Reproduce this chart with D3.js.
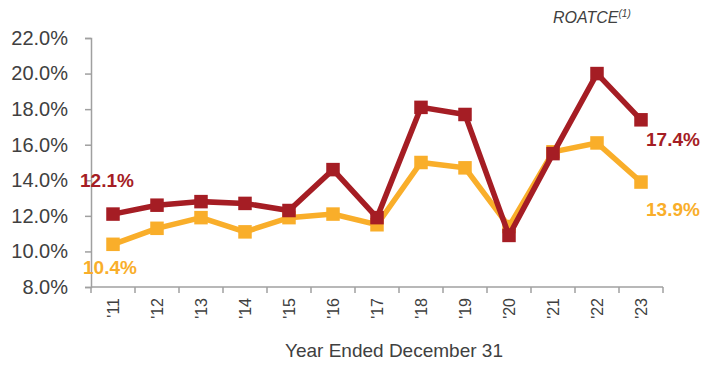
<!DOCTYPE html>
<html>
<head>
<meta charset="utf-8">
<script src="https://cdn.jsdelivr.net/npm/d3@7"></script>
<style>
  body { margin: 0; background: #fff; }
  svg { display: block; font-family: "Liberation Sans", Arial, sans-serif; }
</style>
</head>
<body>
<svg id="chart" width="717" height="365"></svg>
<script>
// Years on the x axis
const years = ["'11", "'12", "'13", "'14", "'15", "'16", "'17", "'18", "'19", "'20", "'21", "'22", "'23"];
// ROATCE series, percent
const seriesRed = [12.1, 12.6, 12.8, 12.7, 12.3, 14.6, 11.9, 18.1, 17.7, 10.9, 15.5, 20.0, 17.4];
const seriesGold = [10.4, 11.3, 11.9, 11.1, 11.9, 12.1, 11.5, 15.0, 14.7, 11.4, 15.6, 16.1, 13.9];
// Y axis ticks
const yTicks = [8, 10, 12, 14, 16, 18, 20, 22];

const RED = "#a51d24";
const GOLD = "#f9ae2a";
const AXIS = "#a0a0a0";
const TEXT = "#404040";

const svg = d3.select("#chart");
const plotLeft = 91, plotRight = 663, plotTop = 38, plotBottom = 287;

const x = d3.scaleBand().domain(years).range([plotLeft, plotRight]);
const y = d3.scaleLinear().domain([8, 22]).range([plotBottom, plotTop]);

// Y axis
const yAxis = svg.append("g")
  .attr("transform", `translate(${plotLeft},0)`)
  .call(d3.axisLeft(y).tickValues(yTicks).tickSize(6).tickPadding(17)
    .tickFormat(d => d.toFixed(1) + "%"));
yAxis.select(".domain").attr("stroke", AXIS).attr("stroke-width", 1.5);
yAxis.selectAll(".tick line").attr("stroke", AXIS).attr("stroke-width", 1.5);
yAxis.selectAll(".tick text").attr("fill", TEXT).attr("font-size", 20)
  .attr("font-family", "Liberation Sans, Arial, sans-serif");

// X axis: ticks at band boundaries
const xAxis = svg.append("g").attr("transform", `translate(0,${plotBottom})`);
xAxis.append("line").attr("x1", plotLeft).attr("x2", plotRight).attr("y1", 0).attr("y2", 0)
  .attr("stroke", AXIS).attr("stroke-width", 1.5);
const bounds = years.map(d => x(d)).concat([plotRight]);
xAxis.selectAll("line.tk").data(bounds).join("line").attr("class", "tk")
  .attr("x1", d => d).attr("x2", d => d).attr("y1", 0).attr("y2", 6)
  .attr("stroke", AXIS).attr("stroke-width", 1.5);
xAxis.selectAll("text").data(years).join("text")
  .attr("transform", d => `translate(${x(d) + x.bandwidth() / 2 + 6},11) rotate(-90)`)
  .attr("text-anchor", "end")
  .attr("fill", TEXT).attr("font-size", 16)
  .text(d => d);

svg.append("text").attr("x", 394).attr("y", 357).attr("text-anchor", "middle")
  .attr("fill", TEXT).attr("font-size", 19).text("Year Ended December 31");

// Title
const title = svg.append("text").attr("x", 553).attr("y", 23)
  .attr("fill", TEXT).attr("font-size", 16).attr("font-style", "italic");
title.append("tspan").text("ROATCE");
title.append("tspan").attr("font-size", 10).attr("dy", -6).text("(1)");

// Lines + square markers
const cx = d => x(d) + x.bandwidth() / 2;
const line = d3.line().x((v, i) => cx(years[i])).y(v => y(v));

function drawSeries(vals, color) {
  svg.append("path").datum(vals).attr("d", line)
    .attr("fill", "none").attr("stroke", color).attr("stroke-width", 5.5)
    .attr("stroke-linejoin", "miter");
  const s = 13.5;
  svg.append("g").selectAll("rect").data(vals).join("rect")
    .attr("x", (v, i) => cx(years[i]) - s / 2).attr("y", v => y(v) - s / 2)
    .attr("width", s).attr("height", s).attr("fill", color);
}
drawSeries(seriesGold, GOLD);
drawSeries(seriesRed, RED);

// End labels
const fmt = v => v.toFixed(1) + "%";
function label(v, px, py, color) {
  svg.append("text").attr("x", px).attr("y", py).attr("fill", color)
    .attr("font-size", 19).attr("font-weight", "bold").text(fmt(v));
}
label(seriesRed[0], 80, 187, RED);
label(seriesGold[0], 83, 274, GOLD);
label(seriesRed[12], 646, 146, RED);
label(seriesGold[12], 646, 216, GOLD);
</script>
</body>
</html>
